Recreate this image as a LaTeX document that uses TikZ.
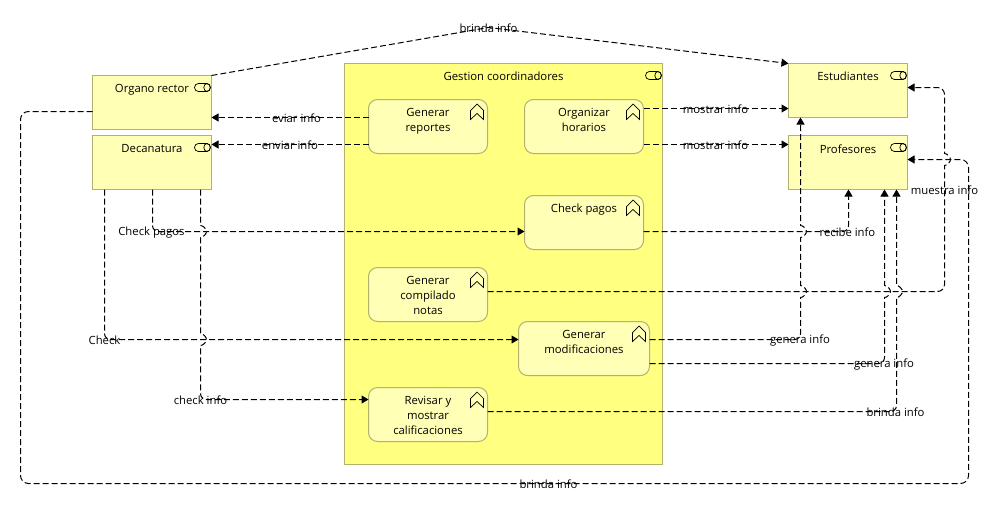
\documentclass[tikz,border=0pt]{standalone}
\usepackage{fontspec}
\setmainfont{Open Sans}
\usetikzlibrary{arrows.meta,calc}
\definecolor{bordercol}{HTML}{B2B26E}
\definecolor{lightfill}{HTML}{FFFFB5}
\definecolor{bigfill}{HTML}{FFFF80}
\newcommand{\jmpdown}[2]{-- (#1,#2-6) .. controls (#1+3,#2-6) and (#1+6,#2-2) .. (#1+6,#2) .. controls (#1+6,#2+2) and (#1+3,#2+6) .. (#1,#2+6)}
\newcommand{\jmpup}[2]{-- (#1,#2+6) .. controls (#1+3,#2+6) and (#1+6,#2+2) .. (#1+6,#2) .. controls (#1+6,#2-2) and (#1+3,#2-6) .. (#1,#2-6)}
\tikzset{
  x=1pt,y=-1pt,
  every node/.style={font=\fontsize{11.3}{15}\selectfont,text=black},
  boxtext/.style={anchor=north,align=center,inner xsep=0pt,inner ysep=8.7pt},
  obj/.style={draw=bordercol,line width=1pt,fill=lightfill,minimum width=119pt,minimum height=54pt,inner sep=0pt,outer sep=0pt},
  proc/.style={obj,rounded corners=9pt},
  edgelbl/.style={inner sep=0pt},
  conn/.style={draw=black,line width=1pt,dash pattern=on 6pt off 3pt,rounded corners=0pt},
  tip/.style={-{Triangle[length=7pt,width=8pt]}},
  svcicon/.pic={
    \draw[line width=0.7pt,black,rounded corners=3.9pt] (-17,8) rectangle (-1,16);
    \draw[line width=0.7pt,black] (-4.5,12) ellipse [x radius=3.2pt,y radius=4pt];
  },
  chevicon/.pic={
    \draw[line width=0.7pt,black] (-10.5,4.5) -- (-4,11) -- (-4,20) -- (-10.5,14) -- (-17,20) -- (-17,11) -- cycle;
  },
}
\begin{document}
\begin{tikzpicture}
\useasboundingbox (-0.5,-0.5) rectangle (997.5,510.5);
% container
\node[obj,fill=bigfill,minimum width=318pt,minimum height=401pt,label={[boxtext]north:Gestion coordinadores}] (gc) at (503,263.5) {};
% actors / roles
\node[obj,label={[boxtext]north:Organo rector}] (orc) at (151.5,102) {};
\node[obj,label={[boxtext]north:Decanatura}] (dec) at (151.5,162) {};
\node[obj,label={[boxtext]north:Estudiantes}] (est) at (847.5,90) {};
\node[obj,label={[boxtext]north:Profesores}] (prof) at (847.5,162) {};
% processes
\node[proc,label={[boxtext]north:Generar\\reportes}] (gr) at (427.5,126) {};
\node[proc,label={[boxtext]north:Organizar\\horarios}] (oh) at (583.5,126) {};
\node[proc,label={[boxtext]north:Check pagos}] (chk) at (583.5,222) {};
\node[proc,label={[boxtext]north:Generar\\compilado\\notas}] (comp) at (427.5,294) {};
\node[proc,minimum width=131pt,label={[boxtext]north:Generar\\modificaciones}] (gm) at (583.5,348) {};
\node[proc,label={[boxtext]north:Revisar y\\mostrar\\calificaciones}] (rev) at (427.5,414) {};
% icons
\foreach \n in {gc,orc,dec,est,prof} \pic at (\n.north east) {svcicon};
\foreach \n in {gr,oh,chk,comp,gm,rev} \pic at (\n.north east) {chevicon};
% connectors
\coordinate (apex) at (488,27);
\draw[conn,tip] (orc.north east) -- (apex) -- (est.north west);
\draw[conn,tip] ([yshift=9pt]gr.west) -- ([yshift=-15pt]orc.east);
\draw[conn,tip] ([yshift=-18pt]gr.west) -- ([yshift=18pt]dec.east);
\draw[conn,tip] ([yshift=18pt]oh.east) -- ([yshift=-18pt]est.west);
\draw[conn,tip] ([yshift=-18pt]oh.east) -- ([yshift=18pt]prof.west);
\draw[conn,tip,rounded corners=6pt] ([xshift=0.5pt]dec.south) -- (152,231) -- (190,231) [sharp corners] -- ([yshift=-9pt]chk.west);
\draw[conn,tip,rounded corners=6pt] ([yshift=-9pt]chk.east) -| ([xshift=0.5pt]prof.south);
\draw[conn,tip,rounded corners=7pt] ([yshift=3pt]comp.east) -- (944,291) -- (944,200) [sharp corners] \jmpup{944}{159} [rounded corners=7pt] -- (944,87) -- ([yshift=3pt]est.east);
\draw[conn,tip,rounded corners=6pt] ([xshift=12pt]dec.south west) -- (104,339) -- (150,339) [sharp corners] -- ([yshift=9pt]gm.west);
\draw[conn,tip] ([xshift=108pt]dec.south west) \jmpdown{200}{231} \jmpdown{200}{339} [rounded corners=6pt] -- (200,399) -- ([yshift=15pt]rev.west);
\draw[conn,tip,rounded corners=6pt] ([yshift=9pt]gm.east) -- (800,339) -- (800,310) [sharp corners] \jmpup{800}{291} \jmpup{800}{231} -- ([xshift=12pt]est.south west);
\draw[conn,tip,rounded corners=6pt] ([yshift=-15pt]gm.east) -- (884,363) -- (884,320) [sharp corners] \jmpup{884}{291} -- ([xshift=96pt]prof.south west);
\draw[conn,tip,rounded corners=6pt] ([yshift=3pt]rev.east) -- (896,411) -- (896,330) [sharp corners] \jmpup{896}{291} -- ([xshift=108pt]prof.south west);
\draw[conn,tip,rounded corners=8pt] ([yshift=-9pt]orc.west) -- (20,111) -- (20,483) -- (968,483) -- (968,159) -- ([yshift=3pt]prof.east);
% connector labels
\node[edgelbl] (l1) at (488,28) {brinda info};
\node[edgelbl] (l2) at (296,118) {eviar info};
\node[edgelbl] (l3) at (289.5,145) {enviar info};
\node[edgelbl] (l4) at (715,109) {mostrar info};
\node[edgelbl] (l5) at (715,145) {mostrar info};
\node[edgelbl] (l6) at (151,232) {Check pagos};
\node[edgelbl] (l7) at (847,232) {recibe info};
\node[edgelbl] (l8) at (944,190) {muestra info};
\node[edgelbl] (l9) at (104,340) {Check};
\node[edgelbl] (l10) at (200,400) {check info};
\node[edgelbl] (l11) at (799.5,340) {genera info};
\node[edgelbl] (l12) at (883.5,364) {genera info};
\node[edgelbl] (l13) at (895,412) {brinda info};
\node[edgelbl] (l14) at (548,484) {brinda info};
\end{tikzpicture}
\end{document}
